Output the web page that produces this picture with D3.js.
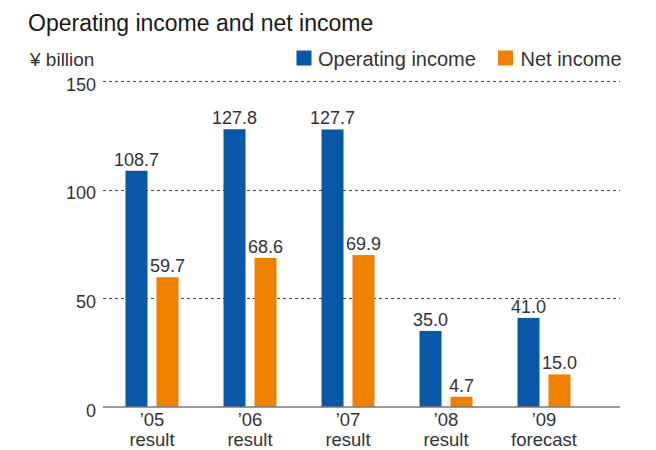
<!DOCTYPE html>
<html>
<head>
<meta charset="utf-8">
<script src="https://cdn.jsdelivr.net/npm/d3@7"></script>
<style>
  html, body { margin: 0; padding: 0; background: #fff; }
  svg { display: block; font-family: "Liberation Sans", Arial, Helvetica, sans-serif; }
</style>
</head>
<body>
<svg id="chart" width="656" height="450"></svg>
<script>
// Fiscal years and their sub-captions
const years = ["\u201905", "\u201906", "\u201907", "\u201908", "\u201909"];
const yearNotes = ["result", "result", "result", "result", "forecast"];

// Values in ¥ billion
const operatingIncome = [108.7, 127.8, 127.7, 35.0, 41.0];
const netIncome = [59.7, 68.6, 69.9, 4.7, 15.0];

const seriesNames = ["Operating income", "Net income"];
const seriesColors = ["#0a57a8", "#f08000"];
const yTicks = [0, 50, 100, 150];

const svg = d3.select("#chart");

const plot = { left: 103, right: 620, top: 81, bottom: 407 };

const y = d3.scaleLinear().domain([0, 150]).range([plot.bottom, plot.top]);

const pIn = 45 / 98;
const x = d3.scaleBand()
  .domain(years)
  .range([103, 593])
  .paddingInner(pIn)
  .paddingOuter(pIn / 2);

const xSub = d3.scaleBand()
  .domain(seriesNames)
  .range([0, x.bandwidth()])
  .paddingInner(9 / 31);

// Title and unit
svg.append("text")
  .attr("x", 28).attr("y", 31)
  .attr("font-size", 23)
  .attr("fill", "#1a1a1a")
  .text("Operating income and net income");

svg.append("text")
  .attr("x", 30).attr("y", 66)
  .attr("font-size", 19)
  .attr("fill", "#333")
  .text("\u00a5 billion");

// Legend, right-aligned to the plot edge
const legendItems = [
  { name: seriesNames[0], color: seriesColors[0], sx: 296.5, tx: 318 },
  { name: seriesNames[1], color: seriesColors[1], sx: 498, tx: 520.5 }
];
const lg = svg.append("g");
legendItems.forEach(d => {
  lg.append("rect").attr("x", d.sx).attr("y", 50.5).attr("width", 15).attr("height", 15).attr("fill", d.color);
  lg.append("text").attr("x", d.tx).attr("y", 65.5).attr("font-size", 20).attr("fill", "#333").text(d.name);
});

// Dashed gridlines (above zero)
svg.append("g")
  .selectAll("line")
  .data(yTicks.filter(t => t > 0))
  .join("line")
  .attr("x1", plot.left).attr("x2", plot.right)
  .attr("y1", d => Math.round(y(d)) + 0.5).attr("y2", d => Math.round(y(d)) + 0.5)
  .attr("stroke", "#444")
  .attr("stroke-width", 1)
  .attr("stroke-dasharray", "3,3");

// Y tick labels
svg.append("g")
  .selectAll("text")
  .data(yTicks)
  .join("text")
  .attr("x", 96)
  .attr("y", d => y(d) + 9.5)
  .attr("text-anchor", "end")
  .attr("font-size", 18)
  .attr("fill", "#333")
  .text(d => d);

// Bars
const rows = years.map((yr, i) => ({
  year: yr,
  values: [
    { key: seriesNames[0], value: operatingIncome[i], color: seriesColors[0] },
    { key: seriesNames[1], value: netIncome[i], color: seriesColors[1] }
  ]
}));

const groups = svg.append("g")
  .selectAll("g")
  .data(rows)
  .join("g")
  .attr("transform", d => `translate(${x(d.year)},0)`);

groups.selectAll("rect")
  .data(d => d.values)
  .join("rect")
  .attr("x", d => xSub(d.key))
  .attr("width", xSub.bandwidth())
  .attr("y", d => y(d.value))
  .attr("height", d => y(0) - y(d.value))
  .attr("fill", d => d.color);

groups.selectAll("text.val")
  .data(d => d.values)
  .join("text")
  .attr("class", "val")
  .attr("x", d => xSub(d.key) + xSub.bandwidth() / 2)
  .attr("y", d => y(d.value) - 5)
  .attr("text-anchor", "middle")
  .attr("font-size", 18)
  .attr("fill", "#333")
  .text(d => d.value.toFixed(1));

// Baseline axis
svg.append("line")
  .attr("x1", plot.left).attr("x2", plot.right)
  .attr("y1", y(0)).attr("y2", y(0))
  .attr("stroke", "#777")
  .attr("stroke-width", 1.5);

// Category labels
const xl = svg.append("g")
  .selectAll("g")
  .data(years)
  .join("g")
  .attr("transform", d => `translate(${x(d) + x.bandwidth() / 2},0)`);

xl.append("text")
  .attr("y", 426)
  .attr("text-anchor", "middle")
  .attr("font-size", 18.5)
  .attr("fill", "#333")
  .text(d => d);

xl.append("text")
  .attr("y", 446)
  .attr("text-anchor", "middle")
  .attr("font-size", 18.5)
  .attr("fill", "#333")
  .text((d, i) => yearNotes[i]);
</script>
</body>
</html>
